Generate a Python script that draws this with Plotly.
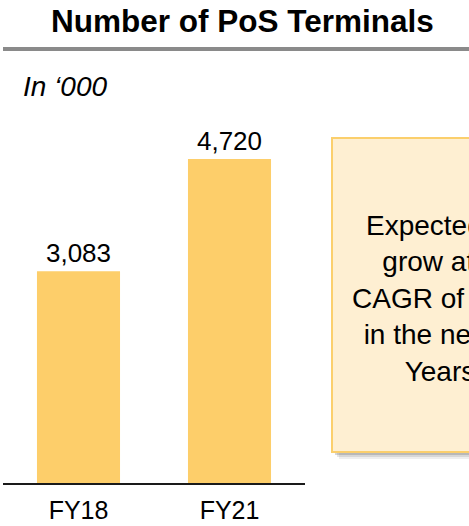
import plotly.graph_objects as go

categories = ["FY18", "FY21"]
values = [3083, 4720]
title_text = "Number of PoS Terminals"
unit_text = "In \u2018000"
box_text = "Expected to<br>grow at a<br>CAGR of 15%<br>in the next 3<br>Years"

W, H = 469, 526
L, R = 3, 305          # plot area px
T, B = 130, 483
FONT = "Arial, Liberation Sans, sans-serif"

def xp(px):
    return (px - L) / (R - L)

def yp(py):
    return (B - py) / (B - T)

ymax = 4720 * (B - T) / (B - 159)

fig = go.Figure()
fig.add_trace(go.Bar(
    x=categories, y=values, width=0.55,
    marker=dict(color="#FDCE6A", line=dict(width=0)),
    texttemplate="%{y:,}", textposition="outside",
    textfont=dict(size=26, color="#000000", family=FONT),
    cliponaxis=False,
))

shapes = []
# gray rule under title
shapes.append(dict(type="rect", xref="paper", yref="paper",
                   x0=xp(3), x1=xp(472), y0=yp(51), y1=yp(47),
                   fillcolor="#8A8A8A", line=dict(width=0), layer="above"))
# box shadow (layered)
for off, op in [(7, 0.10), (5, 0.15), (3, 0.25)]:
    shapes.append(dict(type="rect", xref="paper", yref="paper",
                       x0=xp(332 + off), x1=xp(560 + off),
                       y0=yp(452 + off), y1=yp(138 + off),
                       fillcolor="rgba(90,90,90,%s)" % op, line=dict(width=0), layer="above"))
shapes.append(dict(type="rect", xref="paper", yref="paper",
                   x0=xp(332), x1=xp(560), y0=yp(452), y1=yp(138),
                   fillcolor="#FEEFD2", line=dict(color="#FBCF6C", width=2), layer="above"))

annotations = [
    dict(text="<b>%s</b>" % title_text, xref="paper", yref="paper",
         x=xp(242.5), y=yp(21), xanchor="center", yanchor="middle", showarrow=False,
         font=dict(size=31.5, color="#000000", family=FONT)),
    dict(text="<i>%s</i>" % unit_text, xref="paper", yref="paper",
         x=xp(21), y=yp(87), xanchor="left", yanchor="middle", showarrow=False,
         font=dict(size=28, color="#000000", family=FONT)),
    dict(text=box_text, xref="paper", yref="paper",
         x=xp(440), y=yp(298), xanchor="center", yanchor="middle", showarrow=False,
         align="center", font=dict(size=28, color="#000000", family=FONT)),
]

fig.update_layout(
    width=W, height=H,
    margin=dict(l=L, r=W - R, t=T, b=H - B, pad=0),
    paper_bgcolor="white", plot_bgcolor="white",
    showlegend=False,
    shapes=shapes, annotations=annotations,
    xaxis=dict(range=[-0.5, 1.5], showline=True, linecolor="#1A1A1A", linewidth=2,
               ticks="", showgrid=False, zeroline=False, ticklabelstandoff=4,
               tickfont=dict(size=25, color="#000000", family=FONT)),
    yaxis=dict(range=[0, ymax], visible=False, showgrid=False, zeroline=False),
    bargap=0.45,
)

fig.write_html("out.html")
